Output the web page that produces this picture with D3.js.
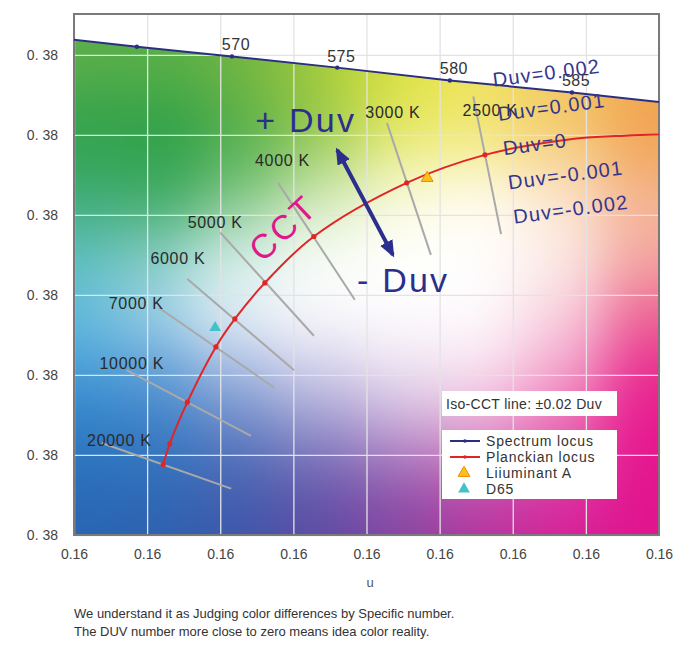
<!DOCTYPE html>
<html lang="en">
<head>
  <meta charset="UTF-8">
  <script src="https://cdn.jsdelivr.net/npm/d3@7/dist/d3.min.js"></script>
  <title>Duv chart</title>
  <style>
    * { margin: 0; padding: 0; }
    body { background: #fff; }
    #box { width: 691px; height: 652px; }
    text { font-family: "Liberation Sans", Arial, sans-serif; }
  </style>
</head>
<body>
<div id="box"></div>
<script>
  // axis ticks (the source chart prints every tick rounded to the same value)
  var xTicks = [0.160, 0.161, 0.162, 0.163, 0.164, 0.165, 0.166, 0.167, 0.168]
  var xTickLabels = ["0.16", "0.16", "0.16", "0.16", "0.16", "0.16", "0.16", "0.16", "0.16"]
  var yTicks = [0.380, 0.381, 0.382, 0.383, 0.384, 0.385, 0.386]
  var yTickLabels = ["0. 38", "0. 38", "0. 38", "0. 38", "0. 38", "0. 38", "0. 38"]

  // spectrum locus
  var locusNm = [560, 565, 570, 575, 580, 585, 590]
  var locusU = [0.15969, 0.16086, 0.16216, 0.16360, 0.16514, 0.16681, 0.16860]
  var locusV = [0.38622, 0.38610, 0.38598, 0.38584, 0.38568, 0.38553, 0.38535]
  var locusLabelled = [570, 575, 580, 585]

  // planckian locus
  var planckCct = [20000, 15000, 10000, 7000, 6000, 5000, 4000, 3000, 2500, 2200, 2000, 1800]
  var planckU = [0.16122, 0.16131, 0.16155, 0.16194, 0.16220, 0.16261, 0.16328, 0.16455, 0.16562, 0.16674, 0.16754, 0.16836]
  var planckV = [0.38088, 0.38114, 0.38166, 0.38235, 0.38270, 0.38315, 0.38373, 0.38440, 0.38475, 0.38494, 0.38499, 0.38501]

  // iso-CCT lines (start / end / label position)
  var isoCct = [20000, 10000, 7000, 6000, 5000, 4000, 3000, 2500]
  var isoU1 = [0.16038, 0.16072, 0.16116, 0.16155, 0.16200, 0.16279, 0.16428, 0.16546]
  var isoV1 = [0.38115, 0.38206, 0.38284, 0.38320, 0.38378, 0.38440, 0.38515, 0.38548]
  var isoU2 = [0.16215, 0.16242, 0.16274, 0.16301, 0.16328, 0.16384, 0.16488, 0.16584]
  var isoV2 = [0.38058, 0.38124, 0.38184, 0.38206, 0.38249, 0.38294, 0.38350, 0.38376]
  var isoLabelU = [0.16062, 0.16079, 0.16085, 0.16142, 0.16193, 0.16285, 0.16436, 0.16569]
  var isoLabelV = [0.38118, 0.38214, 0.38290, 0.38346, 0.38391, 0.38468, 0.38528, 0.38531]

  // illuminants
  var illumNames = ["Liiuminant A", "D65"]
  var illumU = [0.16483, 0.16193]
  var illumV = [0.38446, 0.38259]

  // Duv ladder
  var duvValues = [0.002, 0.001, 0, -0.001, -0.002]

  // background colour field (decoration only), pixel anchors
  var bgStops = [
    [80, 45, "#5fb04b"], [160, 55, "#5ab048"], [240, 65, "#70b444"], [300, 72, "#9cc63c"], [360, 80, "#c8da38"], [430, 90, "#e6e240"], [500, 97, "#f0dc58"], [570, 105, "#f2c050"], [645, 112, "#f0a048"],
    [90, 125, "#34a249"], [170, 135, "#2a9f47"], [250, 130, "#48aa46"], [320, 125, "#8cc44a"], [400, 120, "#e4e858"], [470, 125, "#f4ec80"], [560, 130, "#f6d088"], [645, 140, "#f2a458"],
    [85, 195, "#38a86a"], [160, 195, "#36a656"], [240, 190, "#7cc47c"], [320, 185, "#d0e8b0"], [400, 180, "#f8f8d4"], [470, 185, "#fffcf0"], [560, 190, "#fce8d4"], [645, 200, "#f4b898"],
    [80, 255, "#5cc0c0"], [150, 255, "#86ccc8"], [230, 255, "#d0ecec"], [310, 250, "#fafcfa"], [400, 250, "#ffffff"], [480, 250, "#ffffff"], [560, 255, "#fcefe8"], [645, 255, "#f4a8a0"],
    [80, 315, "#64bce0"], [150, 315, "#a8d8ec"], [230, 315, "#eef6f8"], [310, 315, "#ffffff"], [400, 315, "#ffffff"], [480, 315, "#ffffff"], [560, 320, "#f8d4e2"], [645, 320, "#ec5c90"],
    [80, 370, "#44a0da"], [150, 370, "#5a9cd8"], [230, 370, "#a8bce4"], [310, 370, "#d8d4ec"], [400, 370, "#f0e8f4"], [480, 370, "#fae8f2"], [560, 375, "#f4a8cc"], [645, 380, "#e82890"],
    [80, 420, "#2e7cc6"], [160, 420, "#3a7ec6"], [240, 420, "#6888c8"], [320, 420, "#a4a2d4"], [400, 420, "#d0b8de"], [480, 420, "#f0b8dc"], [560, 420, "#ec70b4"], [645, 420, "#e8108a"],
    [80, 470, "#2a72be"], [160, 470, "#3070bc"], [240, 470, "#4a64b2"], [320, 470, "#6a5eae"], [400, 470, "#9a5eb2"], [480, 470, "#c85ab0"], [560, 470, "#e040a8"], [645, 470, "#e4148e"],
    [80, 525, "#2862b0"], [160, 525, "#2e5eae"], [240, 525, "#3c54a8"], [320, 525, "#5c46a2"], [400, 525, "#84409e"], [480, 525, "#b02e9c"], [560, 525, "#d41c96"], [645, 525, "#e0148e"]
  ]

  var width = 691
  var height = 652
  var x0 = 74, x1 = 659, yTop = 14, yBot = 535

  var x = d3.scaleLinear().domain([0.160, 0.168]).range([x0, x1])
  var y = d3.scaleLinear().domain([0.380, 0.38651]).range([yBot, yTop])

  var svg = d3.select('#box').append('svg')
    .attr('width', width)
    .attr('height', height)

  var defs = svg.append('defs')

  var locus = locusNm.map(function (nm, i) { return { nm: nm, u: locusU[i], v: locusV[i] } })
  var planck = planckCct.map(function (t, i) { return { t: t, u: planckU[i], v: planckV[i] } })

  defs.append('clipPath').attr('id', 'plot-clip')
    .append('rect').attr('x', x0).attr('y', yTop).attr('width', x1 - x0).attr('height', yBot - yTop)

  // area under the spectrum locus
  var underPts = locus.map(function (d) { return [x(d.u), y(d.v)] })
  underPts.push([x(locusU[locusU.length - 1]), yBot + 5], [x(locusU[0]), yBot + 5])
  defs.append('clipPath').attr('id', 'under-locus')
    .append('path').attr('d', 'M' + underPts.join('L') + 'Z')

  // arrow heads
  defs.append('marker')
    .attr('id', 'head')
    .attr('markerUnits', 'userSpaceOnUse')
    .attr('viewBox', '0 -7 17 14')
    .attr('markerWidth', 17).attr('markerHeight', 14)
    .attr('refX', 14).attr('refY', 0)
    .attr('orient', 'auto-start-reverse')
    .append('path').attr('d', 'M0,-7L17,0L0,7Z').attr('fill', '#2b2e8c')

  // background colour field
  var pw = x1 - x0, ph = yBot - yTop
  var cv = document.createElement('canvas')
  cv.width = pw; cv.height = ph
  var ctx = cv.getContext('2d')
  var img = ctx.createImageData(pw, ph)
  var st = bgStops.map(function (s) {
    var c = d3.rgb(s[2])
    return [s[0] - x0, s[1] - yTop, c.r, c.g, c.b]
  })
  var s2 = 2 * 40 * 40
  for (var j = 0; j < ph; j++) {
    for (var i = 0; i < pw; i++) {
      var r = 0, g = 0, b = 0, ws = 0
      for (var k = 0; k < st.length; k++) {
        var dx = i - st[k][0], dy = j - st[k][1]
        var w = Math.exp(-(dx * dx + dy * dy) / s2) + 1e-12
        r += w * st[k][2]; g += w * st[k][3]; b += w * st[k][4]; ws += w
      }
      var p = (j * pw + i) * 4
      img.data[p] = r / ws; img.data[p + 1] = g / ws; img.data[p + 2] = b / ws; img.data[p + 3] = 255
    }
  }
  ctx.putImageData(img, 0, 0)

  svg.append('image')
    .attr('href', cv.toDataURL())
    .attr('x', x0).attr('y', yTop)
    .attr('width', pw).attr('height', ph)
    .attr('preserveAspectRatio', 'none')
    .attr('clip-path', 'url(#under-locus)')

  // grid
  svg.append('g').attr('transform', 'translate(0,' + yBot + ')')
    .call(d3.axisBottom(x).tickValues(xTicks).tickSize(-(yBot - yTop)).tickFormat(''))
  svg.append('g').attr('transform', 'translate(' + x0 + ',0)')
    .call(d3.axisLeft(y).tickValues(yTicks).tickSize(-(x1 - x0)).tickFormat(''))
  svg.selectAll('.domain').remove()
  svg.selectAll('g.tick line').attr('stroke', '#e3e3e3').attr('stroke-width', 1.3)

  // axis labels
  var xAxis = svg.append('g').attr('transform', 'translate(0,' + yBot + ')')
    .call(d3.axisBottom(x).tickValues(xTicks).tickSize(0).tickPadding(14)
      .tickFormat(function (d, i) { return xTickLabels[i] }))
  var yAxis = svg.append('g').attr('transform', 'translate(' + x0 + ',0)')
    .call(d3.axisLeft(y).tickValues(yTicks).tickSize(0).tickPadding(16)
      .tickFormat(function (d, i) { return yTickLabels[i] }))
  xAxis.select('.domain').remove()
  yAxis.select('.domain').remove()
  svg.selectAll('g.tick text')
    .attr('font-family', '"Liberation Sans", Arial, sans-serif')
    .attr('font-size', 14).attr('fill', '#444')

  // frame
  svg.append('rect')
    .attr('x', x0).attr('y', yTop).attr('width', pw).attr('height', ph)
    .attr('fill', 'none').attr('stroke', '#7a7a7a').attr('stroke-width', 2)

  var plot = svg.append('g').attr('clip-path', 'url(#plot-clip)')

  // iso-CCT lines
  plot.selectAll('line.iso')
    .data(isoCct)
    .enter()
    .append('line')
    .attr('class', 'iso')
    .attr('x1', function (d, i) { return x(isoU1[i]) })
    .attr('y1', function (d, i) { return y(isoV1[i]) })
    .attr('x2', function (d, i) { return x(isoU2[i]) })
    .attr('y2', function (d, i) { return y(isoV2[i]) })
    .attr('stroke', '#a9a9a9')
    .attr('stroke-width', 2)

  // spectrum locus
  var line = d3.line()
    .x(function (d) { return x(d.u) })
    .y(function (d) { return y(d.v) })
  plot.append('path')
    .datum(locus)
    .attr('d', line)
    .attr('fill', 'none')
    .attr('stroke', '#2b2e83')
    .attr('stroke-width', 2)
  plot.selectAll('circle.locus')
    .data(locus.filter(function (d) { return d.nm >= 565 && d.nm <= 585 }))
    .enter()
    .append('circle')
    .attr('cx', function (d) { return x(d.u) })
    .attr('cy', function (d) { return y(d.v) })
    .attr('r', 2.2)
    .attr('fill', '#2b2e83')
  svg.selectAll('text.nm')
    .data(locus.filter(function (d) { return locusLabelled.indexOf(d.nm) >= 0 }))
    .enter()
    .append('text')
    .attr('x', function (d) { return x(d.u) + 4 })
    .attr('y', function (d) { return y(d.v) - 6 })
    .attr('text-anchor', 'middle')
    .attr('font-size', 16).attr('letter-spacing', 0.5)
    .attr('fill', '#333')
    .text(function (d) { return d.nm })

  // planckian locus
  plot.append('path')
    .datum(planck)
    .attr('d', line.curve(d3.curveCatmullRom))
    .attr('fill', 'none')
    .attr('stroke', '#e02527')
    .attr('stroke-width', 2)
  plot.selectAll('circle.planck')
    .data(planck.filter(function (d) { return d.t >= 2500 }))
    .enter()
    .append('circle')
    .attr('cx', function (d) { return x(d.u) })
    .attr('cy', function (d) { return y(d.v) })
    .attr('r', 2.6)
    .attr('fill', '#e02527')

  // iso-CCT labels
  svg.selectAll('text.iso')
    .data(isoCct)
    .enter()
    .append('text')
    .attr('x', function (d, i) { return x(isoLabelU[i]) })
    .attr('y', function (d, i) { return y(isoLabelV[i]) })
    .attr('dy', '0.35em')
    .attr('text-anchor', 'middle')
    .attr('font-size', 16)
    .attr('letter-spacing', 0.7)
    .attr('fill', '#2a2a2a')
    .text(function (d) { return d + ' K' })

  // illuminants
  var triangle = d3.symbol().type(d3.symbolTriangle).size(60)
  svg.selectAll('path.illum')
    .data(illumNames)
    .enter()
    .append('path')
    .attr('d', triangle)
    .attr('transform', function (d, i) { return 'translate(' + x(illumU[i]) + ',' + y(illumV[i]) + ')' })
    .attr('fill', function (d, i) { return i === 0 ? '#f8c21a' : '#3fc3c8' })
    .attr('stroke', function (d, i) { return i === 0 ? '#f08a00' : 'none' })
    .attr('stroke-width', 1)

  // Duv annotations
  var navy = '#2b2e8c'
  svg.append('line')
    .attr('x1', x(0.16360)).attr('y1', y(0.38481))
    .attr('x2', x(0.16436)).attr('y2', y(0.38350))
    .attr('stroke', navy).attr('stroke-width', 4)
    .attr('marker-start', 'url(#head)')
    .attr('marker-end', 'url(#head)')
  svg.append('text')
    .attr('x', x(0.16248)).attr('y', y(0.38503))
    .attr('font-size', 34).attr('letter-spacing', 2.2)
    .attr('fill', navy)
    .text('+ Duv')
  svg.append('text')
    .attr('x', x(0.16387)).attr('y', y(0.38304))
    .attr('font-size', 34).attr('letter-spacing', 2.2)
    .attr('fill', navy)
    .text('- Duv')
  svg.append('text')
    .attr('transform', 'translate(' + x(0.16286) + ',' + y(0.38384) + ') rotate(-43)')
    .attr('text-anchor', 'middle')
    .attr('dy', '0.35em')
    .attr('font-size', 34).attr('letter-spacing', 3)
    .attr('fill', '#e0178b')
    .text('CCT')

  var duvU = d3.scaleLinear().domain([0.002, -0.002]).range([0.16574, 0.16602])
  var duvV = d3.scaleLinear().domain([0.002, -0.002]).range([0.38560, 0.38389])
  svg.selectAll('text.duv')
    .data(duvValues)
    .enter()
    .append('text')
    .attr('transform', function (d) { return 'translate(' + x(duvU(d)) + ',' + y(duvV(d)) + ') rotate(-7.5)' })
    .attr('font-size', 20).attr('letter-spacing', 1.2)
    .attr('fill', '#34368e')
    .text(function (d) { return 'Duv=' + d })

  // legend
  var note = svg.append('g').attr('transform', 'translate(442,391)')
  note.append('rect').attr('width', 175).attr('height', 25).attr('fill', '#fff')
  note.append('text').attr('x', 4).attr('y', 17.5)
    .attr('font-size', 14).attr('letter-spacing', 0.3).attr('fill', '#333')
    .text('Iso-CCT line: \u00b10.02 Duv')

  var legend = svg.append('g').attr('transform', 'translate(442,430)')
  legend.append('rect').attr('width', 175).attr('height', 69).attr('fill', '#fff')
  var legendItems = ['Spectrum locus', 'Planckian locus'].concat(illumNames)
  var item = legend.selectAll('g.item')
    .data(legendItems)
    .enter()
    .append('g')
    .attr('transform', function (d, i) { return 'translate(0,' + (11 + i * 16) + ')' })
  item.append('text')
    .attr('x', 44).attr('dy', '0.35em')
    .attr('font-size', 14).attr('letter-spacing', 0.8).attr('fill', '#333')
    .text(function (d) { return d })
  item.filter(function (d, i) { return i < 2 }).append('line')
    .attr('x1', 8).attr('x2', 38)
    .attr('stroke', function (d, i) { return i === 0 ? '#2b2e83' : '#e02527' })
    .attr('stroke-width', 2)
  item.filter(function (d, i) { return i < 2 }).append('circle')
    .attr('cx', 23).attr('r', 1.8)
    .attr('fill', function (d, i) { return i === 0 ? '#2b2e83' : '#e02527' })
  item.filter(function (d, i) { return i >= 2 }).append('path')
    .attr('d', triangle)
    .attr('transform', 'translate(22,0)')
    .attr('fill', function (d, i) { return i === 0 ? '#f8c21a' : '#3fc3c8' })
    .attr('stroke', function (d, i) { return i === 0 ? '#f08a00' : 'none' })

  // axis title and caption
  svg.append('text')
    .attr('x', 370).attr('y', 587)
    .attr('text-anchor', 'middle')
    .attr('font-size', 13).attr('fill', '#555')
    .text('u')
  var caption = svg.append('text')
    .attr('x', 74).attr('y', 618)
    .attr('font-size', 13).attr('fill', '#333')
  caption.append('tspan').attr('x', 74).text('We understand it as Judging color differences by Specific number.')
  caption.append('tspan').attr('x', 74).attr('dy', 18).text('The DUV number more close to zero means idea color reality.')
</script>
</body>
</html>
